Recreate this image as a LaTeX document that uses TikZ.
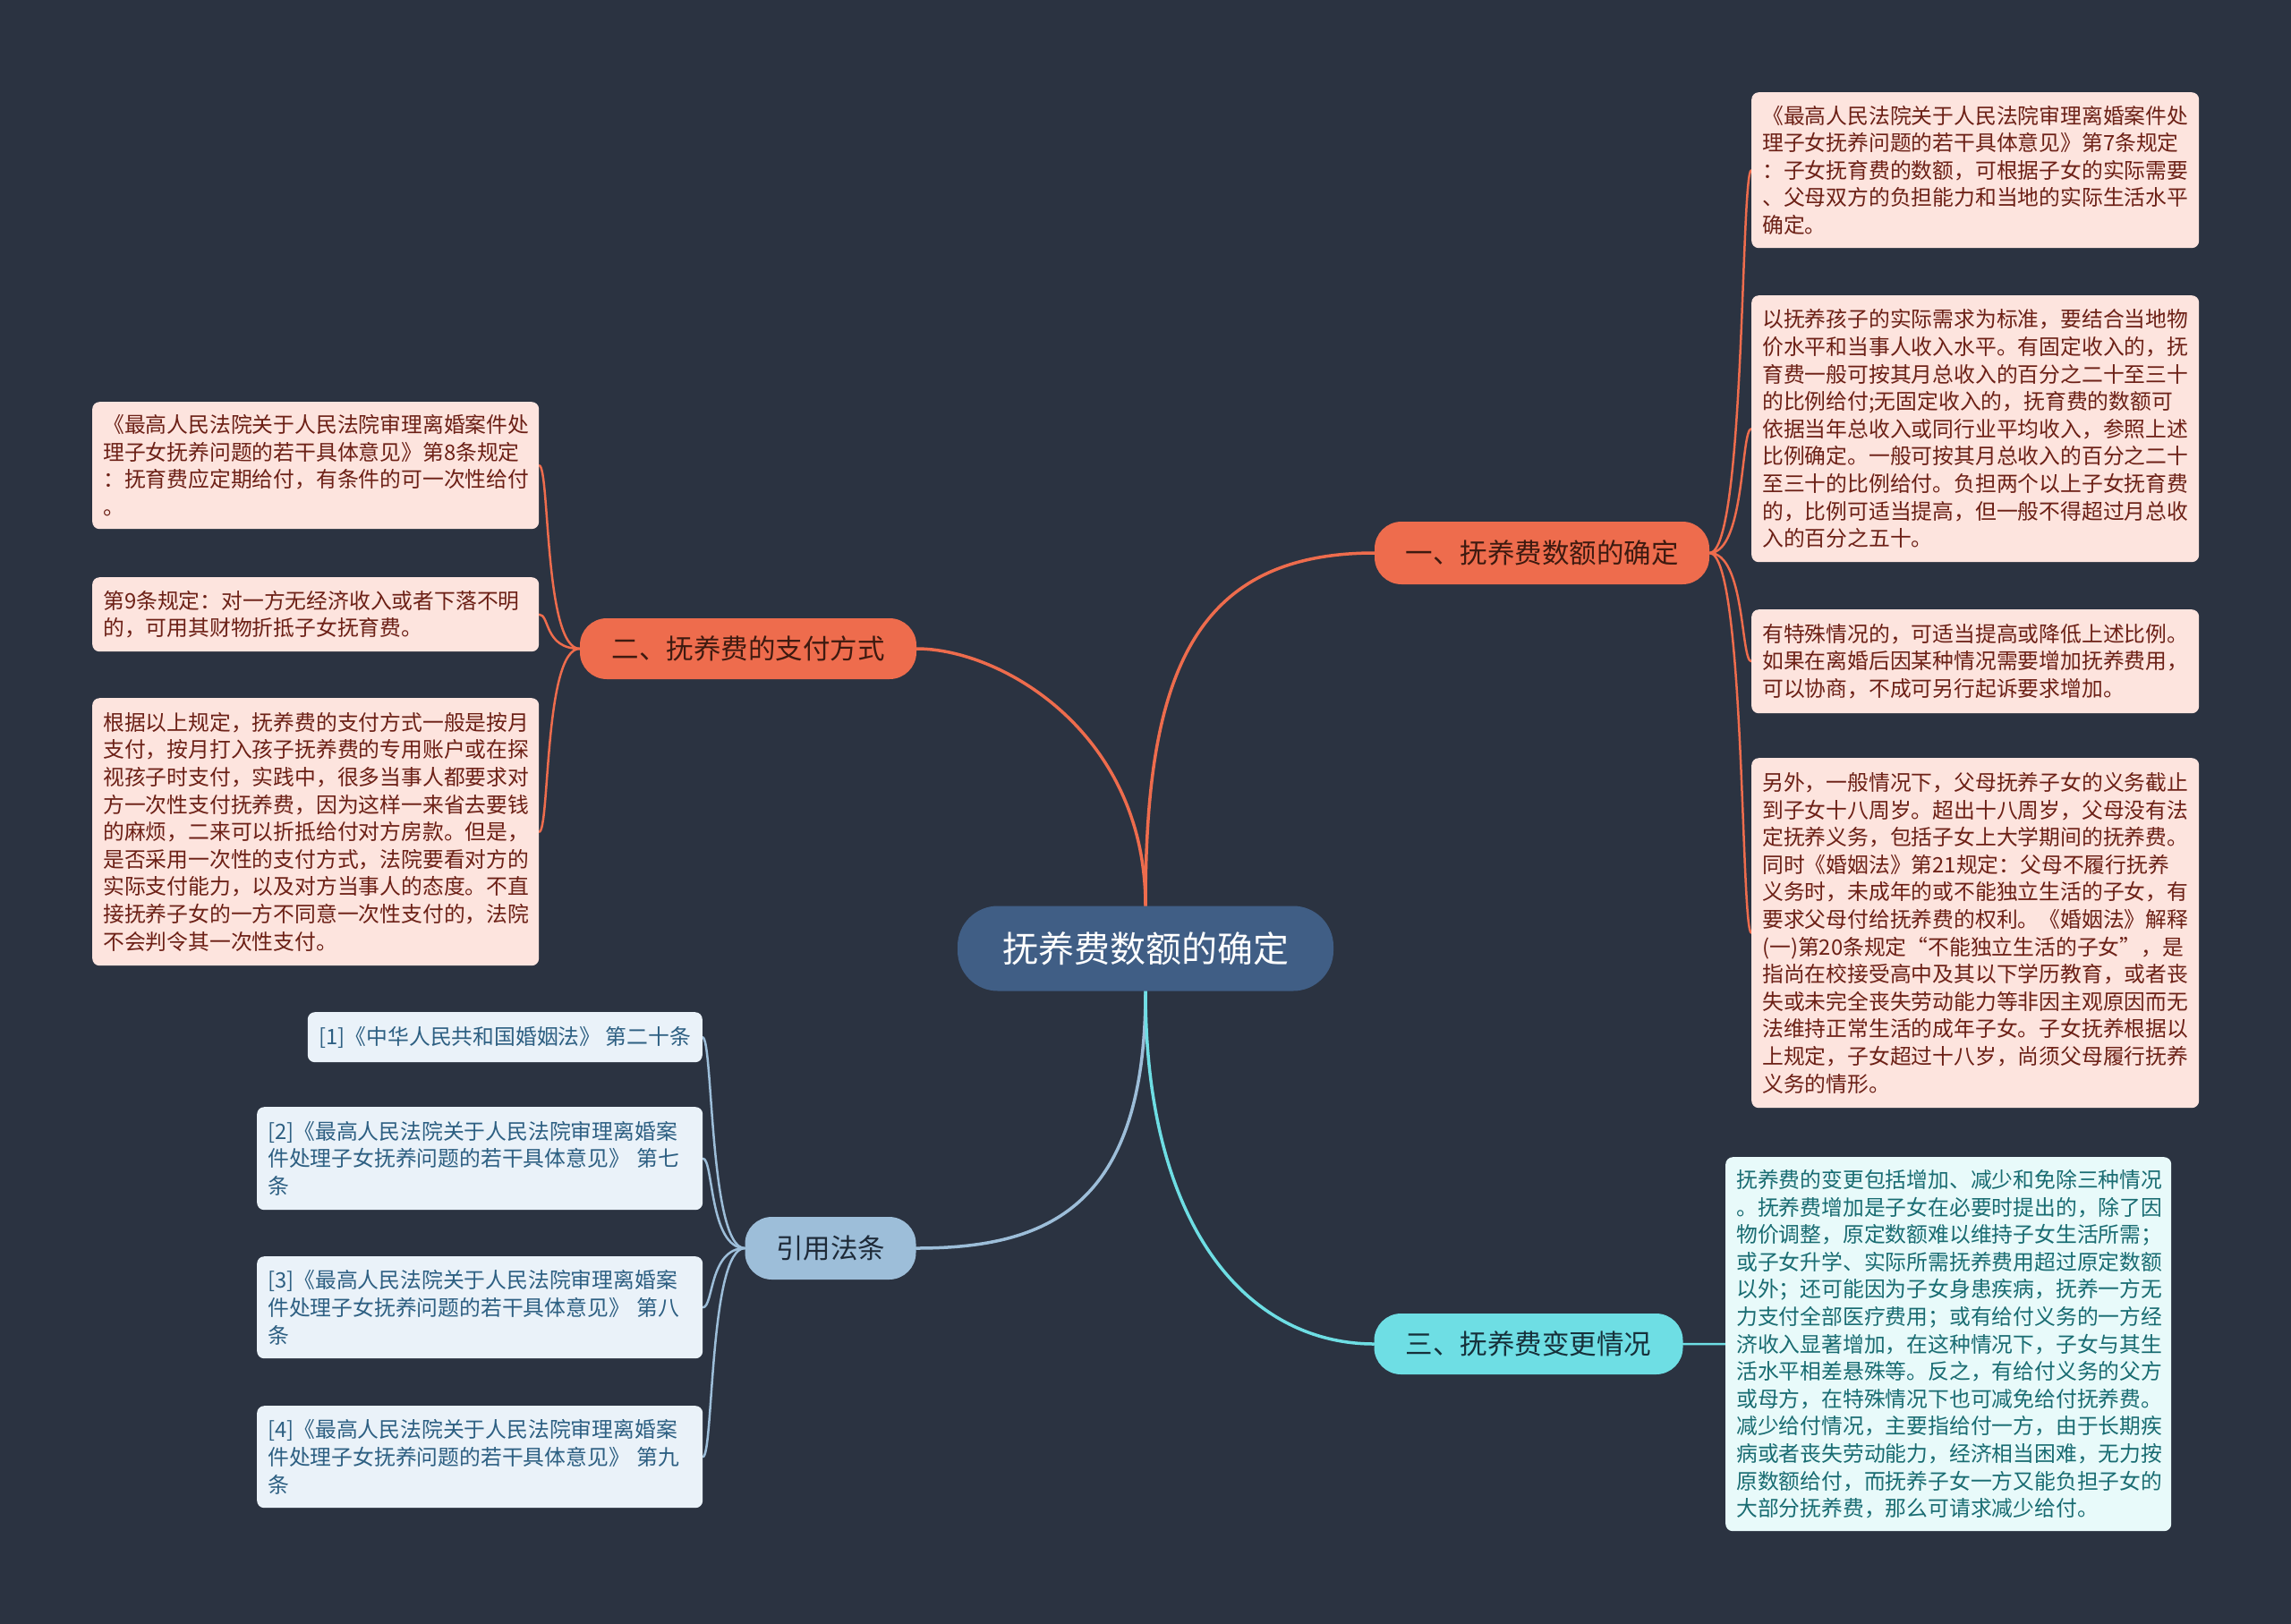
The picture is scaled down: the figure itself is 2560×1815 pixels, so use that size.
\documentclass[tikz,border=0pt]{standalone}
\usepackage{fontspec}
\newfontfamily\cjk{Noto Sans CJK SC}
\usetikzlibrary{calc}
\pgfdeclarelayer{back}
\pgfsetlayers{back,main}
\definecolor{bgc}{RGB}{43,51,65}
\definecolor{ctr}{RGB}{64,94,133}
\definecolor{coral}{RGB}{238,108,77}
\definecolor{coraltxt}{RGB}{62,26,16}
\definecolor{pinkbox}{RGB}{253,228,222}
\definecolor{pinktxt}{RGB}{108,32,22}
\definecolor{cyanb}{RGB}{110,222,228}
\definecolor{cyantxt}{RGB}{22,48,58}
\definecolor{cyanbox}{RGB}{232,250,250}
\definecolor{cyanleaf}{RGB}{25,108,114}
\definecolor{blueb}{RGB}{157,190,217}
\definecolor{bluetxt}{RGB}{30,42,56}
\definecolor{bluebox}{RGB}{234,242,249}
\definecolor{blueleaf}{RGB}{45,95,130}
\begin{document}
\begin{tikzpicture}[x=1pt,y=-1pt,
  leafbox/.style={rounded corners=8pt, anchor=north west, align=left,
    inner xsep=12pt, inner ysep=0pt, font=\cjk\fontsize{23.8}{30.6}\selectfont},
  pinkleaf/.style={leafbox, fill=pinkbox, text=pinktxt},
  cyanleafbox/.style={leafbox, fill=cyanbox, text=cyanleaf},
  blueleafbox/.style={leafbox, fill=bluebox, text=blueleaf},
  branchbox/.style={rounded corners=30pt, inner sep=0pt, font=\cjk\fontsize{30.5}{36}\selectfont},
  centerbox/.style={rounded corners=45pt, inner sep=0pt, fill=ctr, text=white,
    font=\cjk\fontsize{40}{48}\selectfont, minimum width=420pt, minimum height=95pt},
  mainline/.style={line width=3.5pt, line cap=round},
  subline/.style={line width=2.5pt, line cap=round}
]
\useasboundingbox (0,0) rectangle (2560,1815);

% central
\node[centerbox] (c) at (1280,1060) {抚养费数额的确定};

% branches
\node[branchbox, fill=coral, text=coraltxt, minimum width=374pt, minimum height=70pt] (b1) at (1723,618) {一、抚养费数额的确定};
\node[branchbox, fill=coral, text=coraltxt, minimum width=376pt, minimum height=68pt] (b2) at (836,725) {二、抚养费的支付方式};
\node[branchbox, fill=cyanb, text=cyantxt, minimum width=345pt, minimum height=68pt] (b3) at (1708,1502) {三、抚养费变更情况};
\node[branchbox, fill=blueb, text=bluetxt, minimum width=191pt, minimum height=70pt] (rf) at (928,1395) {引用法条};

% leaves of branch 1
\node[pinkleaf, text width=476pt, minimum height=174pt] (l1a) at (1957,103) {《最高人民法院关于人民法院审理离婚案件处\\理子女抚养问题的若干具体意见》第7条规定\\：子女抚育费的数额，可根据子女的实际需要\\、父母双方的负担能力和当地的实际生活水平\\确定。};
\node[pinkleaf, text width=476pt, minimum height=298pt] (l1b) at (1957,330) {以抚养孩子的实际需求为标准，要结合当地物\\价水平和当事人收入水平。有固定收入的，抚\\育费一般可按其月总收入的百分之二十至三十\\的比例给付;无固定收入的，抚育费的数额可\\依据当年总收入或同行业平均收入，参照上述\\比例确定。一般可按其月总收入的百分之二十\\至三十的比例给付。负担两个以上子女抚育费\\的，比例可适当提高，但一般不得超过月总收\\入的百分之五十。};
\node[pinkleaf, text width=476pt, minimum height=116pt] (l1c) at (1957,681) {有特殊情况的，可适当提高或降低上述比例。\\如果在离婚后因某种情况需要增加抚养费用，\\可以协商，不成可另行起诉要求增加。};
\node[pinkleaf, text width=476pt, minimum height=391pt] (l1d) at (1957,847) {另外，一般情况下，父母抚养子女的义务截止\\到子女十八周岁。超出十八周岁，父母没有法\\定抚养义务，包括子女上大学期间的抚养费。\\同时《婚姻法》第21规定：父母不履行抚养\\义务时，未成年的或不能独立生活的子女，有\\要求父母付给抚养费的权利。《婚姻法》解释\\(一)第20条规定“不能独立生活的子女”，是\\指尚在校接受高中及其以下学历教育，或者丧\\失或未完全丧失劳动能力等非因主观原因而无\\法维持正常生活的成年子女。子女抚养根据以\\上规定，子女超过十八岁，尚须父母履行抚养\\义务的情形。};

% leaf of branch 3
\node[cyanleafbox, text width=474pt, minimum height=418pt] (l3) at (1928,1293) {抚养费的变更包括增加、减少和免除三种情况\\。抚养费增加是子女在必要时提出的，除了因\\物价调整，原定数额难以维持子女生活所需；\\或子女升学、实际所需抚养费用超过原定数额\\以外；还可能因为子女身患疾病，抚养一方无\\力支付全部医疗费用；或有给付义务的一方经\\济收入显著增加，在这种情况下，子女与其生\\活水平相差悬殊等。反之，有给付义务的父方\\或母方，在特殊情况下也可减免给付抚养费。\\减少给付情况，主要指给付一方，由于长期疾\\病或者丧失劳动能力，经济相当困难，无力按\\原数额给付，而抚养子女一方又能负担子女的\\大部分抚养费，那么可请求减少给付。};

% leaves of branch 2
\node[pinkleaf, text width=475pt, minimum height=142pt] (l2a) at (103,449) {《最高人民法院关于人民法院审理离婚案件处\\理子女抚养问题的若干具体意见》第8条规定\\：抚育费应定期给付，有条件的可一次性给付\\。};
\node[pinkleaf, text width=475pt, minimum height=83pt] (l2b) at (103,645) {第9条规定：对一方无经济收入或者下落不明\\的，可用其财物折抵子女抚育费。};
\node[pinkleaf, text width=475pt, minimum height=299pt] (l2c) at (103,780) {根据以上规定，抚养费的支付方式一般是按月\\支付，按月打入孩子抚养费的专用账户或在探\\视孩子时支付，实践中，很多当事人都要求对\\方一次性支付抚养费，因为这样一来省去要钱\\的麻烦，二来可以折抵给付对方房款。但是，\\是否采用一次性的支付方式，法院要看对方的\\实际支付能力，以及对方当事人的态度。不直\\接抚养子女的一方不同意一次性支付的，法院\\不会判令其一次性支付。};

% reference leaves
\node[blueleafbox, anchor=north east, minimum width=441pt, minimum height=56pt] (r1) at (785,1131) {[1]《中华人民共和国婚姻法》 第二十条};
\node[blueleafbox, text width=474pt, minimum height=115pt] (r2) at (287,1237) {[2]《最高人民法院关于人民法院审理离婚案\\件处理子女抚养问题的若干具体意见》 第七\\条};
\node[blueleafbox, text width=474pt, minimum height=114pt] (r3) at (287,1404) {[3]《最高人民法院关于人民法院审理离婚案\\件处理子女抚养问题的若干具体意见》 第八\\条};
\node[blueleafbox, text width=474pt, minimum height=114pt] (r4) at (287,1571) {[4]《最高人民法院关于人民法院审理离婚案\\件处理子女抚养问题的若干具体意见》 第九\\条};

\begin{pgfonlayer}{back}
\fill[bgc] (0,0) rectangle (2560,1815);
% main connectors
\draw[mainline, coral] (c.north) .. controls (1280,760) and (1330,618) .. (b1.west);
\draw[mainline, coral] (c.north) .. controls (1280,820) and (1120,725) .. (b2.east);
\draw[mainline, blueb] (c.south) .. controls (1280,1350) and (1170,1395) .. (rf.east);
\draw[mainline, cyanb] (c.south) .. controls (1280,1380) and (1400,1502) .. (b3.west);
% branch 1 leaves
\foreach \n in {l1a,l1b,l1c,l1d}{
  \draw[subline, coral] (b1.east) .. controls ($(b1.east)+(40,0)$) and ($(\n.west)+(-12,0)$) .. (\n.west);
}
% branch 2 leaves
\foreach \n in {l2a,l2b,l2c}{
  \draw[subline, coral] (b2.west) .. controls ($(b2.west)+(-40,0)$) and ($(\n.east)+(12,0)$) .. (\n.east);
}
% reference leaves
\foreach \n in {r1,r2,r3,r4}{
  \draw[subline, blueb] (rf.west) .. controls ($(rf.west)+(-40,0)$) and ($(\n.east)+(12,0)$) .. (\n.east);
}
% branch 3 leaf
\draw[subline, cyanb] (b3.east) -- (l3.west);
\end{pgfonlayer}
\end{tikzpicture}
\end{document}
